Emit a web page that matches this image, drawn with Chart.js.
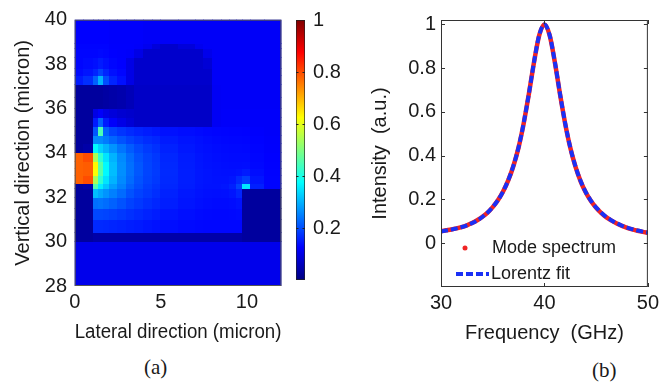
<!DOCTYPE html>
<html>
<head>
<meta charset="utf-8">
<script src="https://cdn.jsdelivr.net/npm/chart.js@4.4.1/dist/chart.umd.min.js"></script>
<style>
  html, body { margin: 0; padding: 0; background: #fff; }
  #page { position: relative; width: 663px; height: 384px; overflow: hidden; background: #fff; }
  canvas { position: absolute; top: 0; }
  #mapa { left: 0; }
  #barra { left: 290px; }
  #espectro { left: 330px; }
  .rotulo { position: absolute; font-family: "Liberation Serif", serif; font-size: 21px; line-height: 1; color: #1a1a1a; }
</style>
</head>
<body>
<div id="page">
  <canvas id="mapa" width="290" height="350"></canvas>
  <canvas id="barra" width="60" height="300"></canvas>
  <canvas id="espectro" width="333" height="350"></canvas>
  <div class="rotulo" style="left:144px; top:357px;">(a)</div>
  <div class="rotulo" style="left:592px; top:360px;">(b)</div>
</div>

<script>
// ---------- panel (a): field map ----------
const lateralTicks = [0, 5, 10];
const verticalTicks = [28, 30, 32, 34, 36, 38, 40];
const colorbarTicks = [0.2, 0.4, 0.6, 0.8, 1];
const colorbarRange = [0, 1];

// cell edges (micron)
const xEdges = [0, 0.5, 1.1, 1.4, 1.7, 2, 2.5, 3, 3.5, 4, 4.5, 5, 6, 7, 7.5, 8, 8.5, 9, 9.4, 9.75, 10.2, 11, 12];
const yEdges = [28, 30, 30.4, 31, 31.5, 32, 32.4, 32.6, 33, 33.3, 33.6, 34, 34.4, 34.8, 35.2, 35.6, 36, 36.5, 37.1, 37.5, 37.8, 38.3, 38.7, 38.95, 40];

// normalised intensity per cell, rows listed from bottom (y = 28) to top (y = 40)
const heatRows = [
  [0.105, 0.105, 0.105, 0.105, 0.105, 0.105, 0.105, 0.105, 0.105, 0.105, 0.105, 0.105, 0.105, 0.105, 0.105, 0.105, 0.105, 0.105, 0.105, 0.105, 0.105, 0.105],
  [0.03, 0.03, 0.04, 0.04, 0.04, 0.04, 0.04, 0.04, 0.04, 0.04, 0.04, 0.04, 0.04, 0.04, 0.04, 0.04, 0.04, 0.04, 0.04, 0.03, 0.03, 0.03],
  [0.03, 0.03, 0.165, 0.165, 0.163, 0.16, 0.157, 0.153, 0.15, 0.146, 0.142, 0.138, 0.134, 0.132, 0.131, 0.131, 0.131, 0.131, 0.131, 0.03, 0.03, 0.03],
  [0.03, 0.03, 0.195, 0.195, 0.192, 0.187, 0.18, 0.172, 0.165, 0.158, 0.152, 0.145, 0.139, 0.135, 0.133, 0.132, 0.132, 0.133, 0.135, 0.03, 0.03, 0.03],
  [0.03, 0.03, 0.235, 0.24, 0.232, 0.22, 0.205, 0.19, 0.18, 0.17, 0.162, 0.153, 0.145, 0.14, 0.137, 0.135, 0.135, 0.137, 0.142, 0.03, 0.03, 0.03],
  [0.03, 0.03, 0.31, 0.29, 0.27, 0.25, 0.23, 0.205, 0.19, 0.18, 0.17, 0.157, 0.148, 0.143, 0.14, 0.139, 0.14, 0.145, 0.16, 0.03, 0.03, 0.03],
  [0.03, 0.04, 0.45, 0.36, 0.32, 0.28, 0.25, 0.22, 0.2, 0.185, 0.175, 0.162, 0.152, 0.146, 0.143, 0.143, 0.146, 0.155, 0.19, 0.35, 0.155, 0.128],
  [0.78, 0.8, 0.54, 0.42, 0.35, 0.3, 0.26, 0.23, 0.205, 0.19, 0.18, 0.164, 0.153, 0.147, 0.144, 0.142, 0.142, 0.146, 0.165, 0.185, 0.145, 0.128],
  [0.78, 0.785, 0.62, 0.46, 0.37, 0.31, 0.265, 0.235, 0.21, 0.192, 0.182, 0.165, 0.153, 0.147, 0.144, 0.141, 0.14, 0.14, 0.143, 0.15, 0.137, 0.127],
  [0.78, 0.785, 0.63, 0.46, 0.37, 0.31, 0.265, 0.235, 0.21, 0.192, 0.181, 0.164, 0.152, 0.146, 0.142, 0.14, 0.138, 0.137, 0.137, 0.138, 0.132, 0.126],
  [0.78, 0.8, 0.54, 0.42, 0.35, 0.3, 0.26, 0.23, 0.205, 0.19, 0.179, 0.162, 0.151, 0.145, 0.141, 0.138, 0.136, 0.135, 0.135, 0.135, 0.13, 0.125],
  [0.03, 0.04, 0.37, 0.33, 0.3, 0.27, 0.24, 0.215, 0.196, 0.182, 0.172, 0.157, 0.148, 0.142, 0.139, 0.136, 0.134, 0.133, 0.133, 0.132, 0.128, 0.123],
  [0.03, 0.03, 0.26, 0.26, 0.245, 0.225, 0.205, 0.19, 0.178, 0.168, 0.162, 0.15, 0.144, 0.14, 0.136, 0.133, 0.131, 0.13, 0.13, 0.129, 0.126, 0.122],
  [0.03, 0.03, 0.21, 0.45, 0.22, 0.19, 0.176, 0.166, 0.158, 0.152, 0.147, 0.141, 0.137, 0.134, 0.131, 0.129, 0.128, 0.127, 0.127, 0.126, 0.123, 0.12],
  [0.03, 0.03, 0.15, 0.22, 0.15, 0.12, 0.1, 0.085, 0.07, 0.07, 0.07, 0.07, 0.07, 0.07, 0.07, 0.115, 0.12, 0.12, 0.12, 0.12, 0.12, 0.12],
  [0.03, 0.03, 0.1, 0.12, 0.1, 0.09, 0.08, 0.075, 0.07, 0.07, 0.07, 0.07, 0.07, 0.07, 0.07, 0.115, 0.12, 0.12, 0.12, 0.12, 0.12, 0.12],
  [0.03, 0.03, 0.03, 0.03, 0.035, 0.04, 0.045, 0.055, 0.07, 0.07, 0.07, 0.07, 0.07, 0.07, 0.07, 0.115, 0.118, 0.118, 0.118, 0.118, 0.118, 0.118],
  [0.03, 0.03, 0.03, 0.03, 0.035, 0.04, 0.045, 0.055, 0.07, 0.07, 0.07, 0.07, 0.07, 0.07, 0.07, 0.115, 0.118, 0.118, 0.118, 0.118, 0.118, 0.118],
  [0.15, 0.17, 0.22, 0.3, 0.2, 0.16, 0.14, 0.1, 0.075, 0.075, 0.075, 0.075, 0.075, 0.075, 0.075, 0.118, 0.118, 0.118, 0.118, 0.118, 0.118, 0.118],
  [0.135, 0.145, 0.16, 0.19, 0.16, 0.14, 0.13, 0.1, 0.075, 0.075, 0.075, 0.075, 0.075, 0.075, 0.075, 0.118, 0.118, 0.118, 0.118, 0.118, 0.118, 0.118],
  [0.13, 0.135, 0.14, 0.15, 0.14, 0.13, 0.125, 0.1, 0.075, 0.075, 0.075, 0.075, 0.075, 0.075, 0.085, 0.118, 0.118, 0.118, 0.118, 0.118, 0.118, 0.118],
  [0.13, 0.13, 0.13, 0.133, 0.13, 0.125, 0.123, 0.12, 0.1, 0.075, 0.075, 0.075, 0.075, 0.075, 0.105, 0.118, 0.118, 0.118, 0.118, 0.118, 0.118, 0.118],
  [0.128, 0.128, 0.128, 0.128, 0.128, 0.123, 0.123, 0.123, 0.12, 0.11, 0.09, 0.075, 0.09, 0.11, 0.118, 0.118, 0.118, 0.118, 0.118, 0.118, 0.118, 0.118],
  [0.125, 0.125, 0.125, 0.125, 0.125, 0.122, 0.122, 0.122, 0.122, 0.118, 0.118, 0.118, 0.118, 0.118, 0.118, 0.118, 0.118, 0.118, 0.118, 0.118, 0.118, 0.118]
];

// ---------- panel (b): spectrum ----------
const freqGHz = [30, 30.5, 31, 31.5, 32, 32.5, 33, 33.5, 34, 34.5, 35, 35.5, 36, 36.5, 37, 37.5, 38, 38.5, 39, 39.5,
  40, 40.5, 41, 41.5, 42, 42.5, 43, 43.5, 44, 44.5, 45, 45.5, 46, 46.5, 47, 47.5, 48, 48.5, 49, 49.5, 50];
const modeIntensity = [0.055, 0.059, 0.063, 0.068, 0.074, 0.082, 0.092, 0.105, 0.121, 0.14, 0.165, 0.196, 0.236, 0.287, 0.353, 0.438, 0.549, 0.684, 0.829, 0.951,
  1, 0.951, 0.829, 0.683, 0.548, 0.436, 0.35, 0.283, 0.232, 0.193, 0.162, 0.138, 0.118, 0.103, 0.09, 0.079, 0.07, 0.063, 0.057, 0.052, 0.048];
const fitIntensity = [0.054, 0.058, 0.062, 0.068, 0.074, 0.082, 0.092, 0.104, 0.12, 0.14, 0.165, 0.196, 0.236, 0.288, 0.354, 0.439, 0.55, 0.684, 0.83, 0.951,
  1, 0.951, 0.83, 0.684, 0.549, 0.437, 0.351, 0.284, 0.233, 0.194, 0.163, 0.139, 0.119, 0.104, 0.091, 0.08, 0.071, 0.064, 0.058, 0.053, 0.049];
const freqTicks = [30, 40, 50];
const intensityTicks = [0, 0.2, 0.4, 0.6, 0.8, 1];

const corTexto = "#1a1a1a";
const corModo = "#f02424";
const corAjuste = "#1a30f5";

Chart.defaults.font.family = "'Liberation Sans', Arial, sans-serif";
Chart.defaults.color = corTexto;

function jetColor(v) {
  const c = (t) => Math.round(255 * Math.min(1, Math.max(0, t)));
  const r = c(1.5 - Math.abs(4 * v - 3));
  const g = c(1.5 - Math.abs(4 * v - 2));
  const b = c(1.5 - Math.abs(4 * v - 1));
  return `rgb(${r},${g},${b})`;
}

function fixarTicks(lista) {
  return (scale) => {
    scale.ticks = lista.map((v) => ({ value: v }));
  };
}

function rotuloSimples(valor) {
  return String(Number(valor.toFixed(2)));
}

const heatPlugin = {
  id: "heatCells",
  beforeDatasetsDraw(chart) {
    const { ctx, chartArea, scales } = chart;
    ctx.save();
    ctx.beginPath();
    ctx.rect(chartArea.left, chartArea.top, chartArea.width, chartArea.height);
    ctx.clip();
    heatRows.forEach((row, j) => {
      const yTop = Math.floor(scales.y.getPixelForValue(yEdges[j + 1]));
      const yBot = Math.ceil(scales.y.getPixelForValue(yEdges[j]));
      row.forEach((v, i) => {
        const xL = Math.floor(scales.x.getPixelForValue(xEdges[i]));
        const xR = Math.ceil(scales.x.getPixelForValue(xEdges[i + 1]));
        ctx.fillStyle = jetColor(v);
        ctx.fillRect(xL, yTop, xR - xL, yBot - yTop);
      });
    });
    ctx.restore();
  },
  afterDraw(chart) {
    const { ctx, chartArea } = chart;
    ctx.save();
    ctx.strokeStyle = "#555";
    ctx.lineWidth = 1;
    ctx.strokeRect(chartArea.left + 0.5, chartArea.top + 0.5, chartArea.width - 1, chartArea.height - 1);
    ctx.restore();
  }
};

new Chart(document.getElementById("mapa"), {
  type: "scatter",
  data: { datasets: [{ data: [] }] },
  options: {
    responsive: false,
    animation: false,
    layout: { padding: { top: 14, right: 8.6, left: 0, bottom: 0 } },
    plugins: { legend: { display: false }, tooltip: { enabled: false } },
    scales: {
      x: {
        type: "linear",
        min: 0,
        max: 12,
        afterBuildTicks: fixarTicks(lateralTicks),
        afterFit: (s) => { s.height = 64; },
        grid: { display: false, drawTicks: false },
        border: { display: false },
        ticks: { padding: 4, font: { size: 20 }, color: corTexto, callback: rotuloSimples },
        title: { display: true, text: "Lateral direction (micron)", font: { size: 20 }, color: corTexto, padding: { top: 0, bottom: 6 } }
      },
      y: {
        type: "linear",
        min: 28,
        max: 40,
        afterBuildTicks: fixarTicks(verticalTicks),
        afterFit: (s) => { s.width = 74.7; },
        grid: { display: false, drawTicks: false },
        border: { display: false },
        ticks: { padding: 7.7, font: { size: 20 }, color: corTexto, callback: rotuloSimples },
        title: { display: true, text: "Vertical direction (micron)", font: { size: 20 }, color: corTexto, padding: { top: 11, bottom: 0 } }
      }
    }
  },
  plugins: [heatPlugin]
});

// colorbar
function jetGradient(chart) {
  const y = chart.scales.y;
  if (!y || !chart.chartArea) return jetColor(0.5);
  const g = chart.ctx.createLinearGradient(0, y.getPixelForValue(colorbarRange[0]), 0, y.getPixelForValue(colorbarRange[1]));
  [0, 0.125, 0.375, 0.625, 0.875, 1].forEach((s) => g.addColorStop(s, jetColor(s)));
  return g;
}

const marcasBarra = {
  id: "marcasBarra",
  afterDatasetsDraw(chart) {
    const { ctx, chartArea, scales } = chart;
    ctx.save();
    ctx.strokeStyle = "#222";
    ctx.lineWidth = 1;
    ctx.beginPath();
    colorbarTicks.forEach((v) => {
      if (v >= colorbarRange[1]) return;
      const py = Math.round(scales.y.getPixelForValue(v)) + 0.5;
      ctx.moveTo(chartArea.left, py); ctx.lineTo(chartArea.left + 2.5, py);
      ctx.moveTo(chartArea.right, py); ctx.lineTo(chartArea.right - 2.5, py);
    });
    ctx.stroke();
    ctx.restore();
  }
};

new Chart(document.getElementById("barra"), {
  type: "bar",
  data: {
    labels: [""],
    datasets: [{
      data: [[colorbarRange[0], colorbarRange[1]]],
      backgroundColor: (ctx) => jetGradient(ctx.chart),
      borderColor: "#222",
      borderWidth: 1,
      borderSkipped: false,
      barPercentage: 1,
      categoryPercentage: 1
    }]
  },
  options: {
    responsive: false,
    animation: false,
    layout: { padding: { top: 14, bottom: 14, left: 6, right: 0 } },
    plugins: { legend: { display: false }, tooltip: { enabled: false } },
    scales: {
      x: { display: false },
      y: {
        position: "right",
        min: 0,
        max: 1,
        afterBuildTicks: fixarTicks(colorbarTicks),
        afterFit: (s) => { s.width = 45; },
        grid: { display: false, drawTicks: false },
        border: { display: false },
        ticks: { padding: 8, font: { size: 20 }, color: corTexto, callback: rotuloSimples }
      }
    }
  },
  plugins: [marcasBarra]
});

// spectrum panel
const legendaInterna = {
  id: "legendaInterna",
  afterDraw(chart) {
    const { ctx, chartArea, scales } = chart;
    ctx.save();
    // box and inward ticks
    ctx.strokeStyle = "#333";
    ctx.lineWidth = 1;
    ctx.strokeRect(chartArea.left + 0.5, chartArea.top + 0.5, chartArea.width - 1, chartArea.height - 1);
    ctx.beginPath();
    freqTicks.forEach((v) => {
      const px = Math.round(scales.x.getPixelForValue(v)) + 0.5;
      ctx.moveTo(px, chartArea.bottom); ctx.lineTo(px, chartArea.bottom - 4);
      ctx.moveTo(px, chartArea.top); ctx.lineTo(px, chartArea.top + 4);
    });
    intensityTicks.forEach((v) => {
      const py = Math.round(scales.y.getPixelForValue(v)) + 0.5;
      ctx.moveTo(chartArea.left, py); ctx.lineTo(chartArea.left + 4, py);
      ctx.moveTo(chartArea.right, py); ctx.lineTo(chartArea.right - 4, py);
    });
    ctx.stroke();

    // legend
    const x0 = chartArea.left;
    const y0 = chartArea.top;
    ctx.fillStyle = corModo;
    ctx.beginPath();
    ctx.arc(x0 + 24, y0 + 228, 2.5, 0, Math.PI * 2);
    ctx.fill();
    ctx.strokeStyle = corAjuste;
    ctx.lineWidth = 4;
    ctx.setLineDash([7, 3]);
    ctx.beginPath();
    ctx.moveTo(x0 + 15, y0 + 254);
    ctx.lineTo(x0 + 48, y0 + 254);
    ctx.stroke();
    ctx.setLineDash([]);
    ctx.fillStyle = corTexto;
    ctx.font = "18px 'Liberation Sans', Arial, sans-serif";
    ctx.textBaseline = "middle";
    ctx.fillText("Mode spectrum", x0 + 51, y0 + 228);
    ctx.fillText("Lorentz fit", x0 + 50, y0 + 254);
    ctx.restore();
  }
};

new Chart(document.getElementById("espectro"), {
  type: "line",
  data: {
    datasets: [
      {
        label: "Lorentz fit",
        data: freqGHz.map((f, i) => ({ x: f, y: fitIntensity[i] })),
        borderColor: corAjuste,
        borderWidth: 4,
        borderDash: [7, 3],
        pointRadius: 0,
        cubicInterpolationMode: "monotone",
        order: 0
      },
      {
        label: "Mode spectrum",
        data: freqGHz.map((f, i) => ({ x: f, y: modeIntensity[i] })),
        borderColor: corModo,
        borderWidth: 4.5,
        pointRadius: 0,
        cubicInterpolationMode: "monotone",
        order: 1
      }
    ]
  },
  options: {
    responsive: false,
    animation: false,
    layout: { padding: { top: 20, right: 12, left: 0, bottom: 0 } },
    plugins: { legend: { display: false }, tooltip: { enabled: false } },
    scales: {
      x: {
        type: "linear",
        min: 30,
        max: 50,
        afterBuildTicks: fixarTicks(freqTicks),
        afterFit: (s) => { s.height = 63; },
        grid: { display: false, drawTicks: false },
        border: { display: false },
        ticks: { padding: 4, font: { size: 20 }, color: corTexto, callback: rotuloSimples },
        title: { display: true, text: "Frequency  (GHz)", font: { size: 20 }, color: corTexto, padding: { top: 0, bottom: 5 } }
      },
      y: {
        type: "linear",
        min: -0.2,
        max: 1.02,
        afterBuildTicks: fixarTicks(intensityTicks),
        afterFit: (s) => { s.width = 111; },
        grid: { display: false, drawTicks: false },
        border: { display: false },
        ticks: { padding: 5, font: { size: 20 }, color: corTexto, callback: rotuloSimples },
        title: { display: true, text: "Intensity  (a.u.)", font: { size: 20 }, color: corTexto, padding: { top: 38, bottom: 0 } }
      }
    }
  },
  plugins: [legendaInterna]
});
</script>
</body>
</html>
